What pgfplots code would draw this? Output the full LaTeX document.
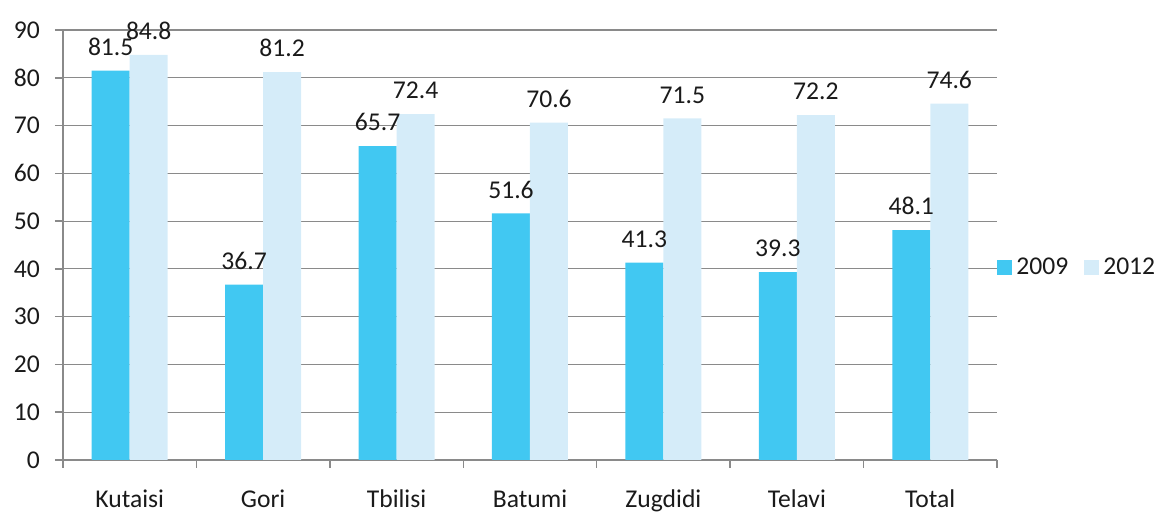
\documentclass[border=0pt]{standalone}
\usepackage{pgfplots}
\pgfplotsset{compat=1.18}
\usepackage{fontspec}
\setmainfont{Carlito}
\definecolor{c2009}{HTML}{41C8F2}
\definecolor{c2012}{HTML}{D5ECF9}
\definecolor{gridgray}{HTML}{8A8A8A}
\definecolor{txt}{HTML}{1A1A1A}

\begin{document}
\begin{tikzpicture}
\useasboundingbox (0,0) rectangle (579pt,256.5pt);
\begin{axis}[
    at={(31.5pt,26.5pt)}, anchor=south west,
    width=467pt, height=215pt, scale only axis,
    font=\fontsize{12.8}{15}\selectfont,
    text=txt,
    /pgf/number format/assume math mode=true,
    ybar=0pt, bar width=19pt,
    xmin=-0.5, xmax=6.5,
    ymin=0, ymax=90,
    ytick={0,10,...,90},
    xtick={0,...,6},
    xticklabels={Kutaisi,Gori,Tbilisi,Batumi,Zugdidi,Telavi,Total},
    minor xtick={-0.5,0.5,...,6.5},
    major x tick style={draw=none},
    tick align=outside,
    minor tick length=4pt,
    major tick length=4pt,
    tick style={gridgray, line width=0.75pt},
    axis x line*=bottom, axis y line*=left,
    axis line style={gridgray, line width=0.75pt, -},
    ymajorgrids,
    grid style={gridgray, line width=0.6pt},
    xticklabel style={yshift=-7.5pt},
    yticklabel style={xshift=-4pt},
    nodes near coords,
    nodes near coords style={font=\fontsize{12.8}{15}\selectfont, text=txt, yshift=4pt},
    legend style={at={(1.0,0.447)}, anchor=west, draw=none, fill=none,
        legend columns=-1, font=\fontsize{12.8}{15}\selectfont, inner sep=0pt,
        /tikz/every even column/.append style={column sep=6pt}},
    legend image code/.code={\fill[#1] (0pt,-3.75pt) rectangle (7.5pt,3.75pt);},
]
\addplot[fill=c2009, draw=none] coordinates {(0,81.5) (1,36.7) (2,65.7) (3,51.6) (4,41.3) (5,39.3) (6,48.1)};
\addplot[fill=c2012, draw=none] coordinates {(0,84.8) (1,81.2) (2,72.4) (3,70.6) (4,71.5) (5,72.2) (6,74.6)};
\legend{2009,2012}
\end{axis}
\end{tikzpicture}
\end{document}
